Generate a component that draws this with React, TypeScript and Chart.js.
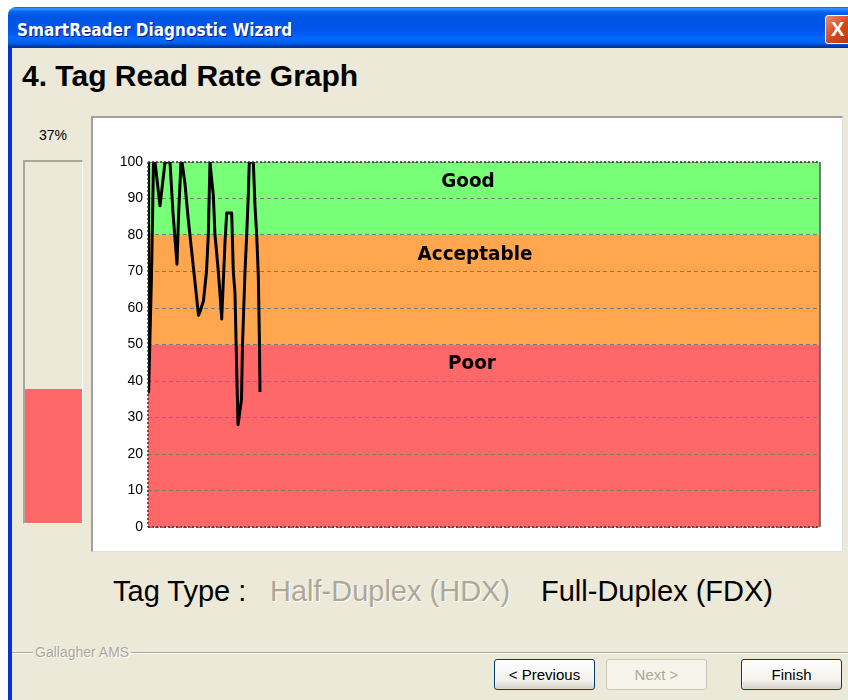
import React, { useEffect, useRef } from "react";
import { Chart, registerables } from "chart.js";

Chart.register(...registerables);

// ---- data ----
const sampleIndex = [0, 0.3, 1.75, 2.25, 2.75, 3.5, 6, 8.5, 11, 12.5, 14.5, 15.25, 16.5, 17, 18.5, 20, 21.75, 23.5, 25.25, 26, 27.75, 29.25, 30.15, 31, 31.85, 32.65, 33.5, 34.35, 35.15, 36, 36.85, 38.5, 39.35, 41.85, 42.65, 43.5, 44.35, 45, 46.75, 47.25, 48.5, 49.35, 50.15, 50.65, 52.65, 53.5, 54.35, 55.15, 55.65, 56];
const readRate = [100, 37, 69, 84, 100, 100, 88, 100, 100, 86, 72, 85, 100, 100, 94, 85, 76, 67, 58, 59, 62, 70, 80, 100, 95, 91, 80, 75, 70, 64, 57, 78, 86, 86, 70, 64, 43, 28, 35, 50, 70, 80, 91, 100, 100, 88, 80, 69, 53, 37];
const sampleMax = 336;

const bandLabels = ["Good", "Acceptable", "Poor"];
const bandFrom = [80, 50, 0];
const bandTo = [100, 80, 50];
const bandColors = ["#78FF78", "#FFA64F", "#FF6868"];
const bandLabelY = [94.5, 74.7, 44.8];
const bandLabelX = [160, 163.5, 162];

const yMin = 0;
const yMax = 100;
const yStep = 10;

const currentRate = readRate[readRate.length - 1];

const bandsPlugin = {
  id: "bands",
  beforeDraw(chart: any) {
    const { ctx, chartArea, scales } = chart;
    const y = scales.y;
    ctx.save();
    for (let i = 0; i < bandLabels.length; i++) {
      const top = y.getPixelForValue(bandTo[i]);
      const bot = y.getPixelForValue(bandFrom[i]);
      ctx.fillStyle = bandColors[i];
      ctx.fillRect(chartArea.left, top, chartArea.right - chartArea.left, bot - top);
    }
    ctx.restore();
  },
  afterDraw(chart: any) {
    const { ctx, chartArea, scales } = chart;
    const x = scales.x;
    const y = scales.y;
    ctx.save();
    ctx.fillStyle = "#000";
    ctx.font = 'bold 20px "DejaVu Sans"';
    ctx.textAlign = "center";
    ctx.textBaseline = "middle";
    for (let i = 0; i < bandLabels.length; i++) {
      ctx.save();
      ctx.translate(x.getPixelForValue(bandLabelX[i]), y.getPixelForValue(bandLabelY[i]));
      ctx.scale(0.92, 1);
      ctx.fillText(bandLabels[i], 0, 0);
      ctx.restore();
    }
    const { left, right, top, bottom } = chartArea;
    ctx.lineWidth = 1.5;
    ctx.strokeStyle = "#333";
    ctx.setLineDash([2, 2]);
    ctx.beginPath();
    ctx.moveTo(left, top);
    ctx.lineTo(right, top);
    ctx.moveTo(left, bottom);
    ctx.lineTo(right, bottom);
    ctx.moveTo(left, top);
    ctx.lineTo(left, bottom);
    ctx.stroke();
    ctx.setLineDash([]);
    ctx.strokeStyle = "#555";
    ctx.beginPath();
    ctx.moveTo(right, top);
    ctx.lineTo(right, bottom);
    ctx.stroke();
    ctx.restore();
  },
};

function RateChart() {
  const ref = useRef<HTMLCanvasElement | null>(null);
  useEffect(() => {
    if (!ref.current) return;
    const chart = new Chart(ref.current, {
      type: "line",
      data: {
        datasets: [
          {
            data: sampleIndex.map((s, i) => ({ x: s, y: readRate[i] })),
            borderColor: "#000",
            borderWidth: 3,
            pointRadius: 0,
            tension: 0,
            fill: false,
            borderJoinStyle: "round",
          },
        ],
      },
      options: {
        responsive: false,
        animation: false,
        events: [],
        layout: { padding: { top: 44, bottom: 23, right: 21, left: 0 } },
        plugins: { legend: { display: false }, tooltip: { enabled: false } },
        scales: {
          x: { type: "linear", min: 0, max: sampleMax, display: false },
          y: {
            min: yMin,
            max: yMax,
            border: { display: false, dash: [4, 3] },
            ticks: {
              stepSize: yStep,
              color: "#000",
              padding: 5,
              font: { family: "Liberation Sans", size: 14 },
            },
            grid: {
              drawTicks: false,
              color: "#7A7A7A",
              lineWidth: 1,
            },
            afterFit(scale: any) {
              scale.width = 55;
            },
          } as any,
        },
      } as any,
      plugins: [bandsPlugin],
    });
    return () => chart.destroy();
  }, []);
  return <canvas ref={ref} width={748} height={432} style={{ position: "absolute", left: 93, top: 118, width: 748, height: 432 }} />;
}

const sans = '"Liberation Sans", Arial, sans-serif';

function XPButton({ left, label, disabled }: { left: number; label: string; disabled?: boolean }) {
  return (
    <div
      style={{
        position: "absolute",
        left,
        top: 659,
        width: 101,
        height: 31,
        boxSizing: "border-box",
        border: disabled ? "1px solid #C9C7BA" : "1px solid #003C74",
        borderRadius: 3,
        background: disabled ? "#F5F4EA" : "linear-gradient(#FFFFFF, #F3F2EC 70%, #D6D0C5)",
        boxShadow: disabled ? "none" : "inset 0 -1px 0 #E0DCC8, inset 1px 0 0 #FBFBF9",
        color: disabled ? "#ACA899" : "#000",
        font: `15px ${sans}`,
        textAlign: "center",
        lineHeight: "29px",
      }}
    >
      {label}
    </div>
  );
}

export default function App() {
  const fillPct = currentRate / 100;
  const barTop = 160;
  const barBottom = 524;
  const innerH = barBottom - barTop - 2;
  return (
    <div style={{ position: "absolute", left: 0, top: 0, width: 848, height: 700, background: "#fff", overflow: "hidden" }}>
      <div
        style={{
          position: "absolute",
          left: 8,
          top: 7,
          width: 860,
          height: 41,
          borderTopLeftRadius: 8,
          background:
            "linear-gradient(#0058EE 0%, #3593FF 4%, #288EFF 6%, #127DFF 8%, #036FFC 10%, #0262EE 14%, #0057E5 20%, #0054E3 24%, #0055EB 56%, #005BF5 66%, #026AFE 76%, #0062EF 86%, #0052D6 92%, #0040AB 94%, #003092 100%)",
        }}
      />
      <div
        style={{
          position: "absolute",
          left: 17,
          top: 20,
          color: "#fff",
          font: 'bold 17px "DejaVu Sans Condensed", "DejaVu Sans", sans-serif',
          textShadow: "1px 1px 0 #0A1883",
          whiteSpace: "nowrap",
        }}
      >
        SmartReader Diagnostic Wizard
      </div>
      <div
        style={{
          position: "absolute",
          left: 825,
          top: 15,
          width: 30,
          height: 29,
          boxSizing: "border-box",
          border: "1px solid #fff",
          borderRadius: 3,
          background: "linear-gradient(135deg, #E88B6C, #D4471E 50%, #B83410)",
          color: "#fff",
          font: `bold 20px ${sans}`,
          lineHeight: "27px",
          paddingLeft: 5,
        }}
      >
        X
      </div>
      <div style={{ position: "absolute", left: 8, top: 48, width: 4, height: 652, background: "#0831D9" }} />
      <div style={{ position: "absolute", left: 12, top: 48, width: 836, height: 652, background: "#ECE9D8" }} />
      <div style={{ position: "absolute", left: 22, top: 59, font: `bold 30px ${sans}`, color: "#000", whiteSpace: "nowrap" }}>
        4. Tag Read Rate Graph
      </div>
      <div style={{ position: "absolute", left: 23, width: 60, top: 127, textAlign: "center", font: `14px ${sans}`, color: "#000" }}>
        {currentRate}%
      </div>
      <div
        style={{
          position: "absolute",
          left: 23,
          top: barTop,
          width: 60,
          height: barBottom - barTop,
          boxSizing: "border-box",
          borderLeft: "2px solid #ACA899",
          borderTop: "2px solid #ACA899",
          borderRight: "1px solid #fff",
          borderBottom: "1px solid #fff",
        }}
      >
        <div style={{ position: "absolute", left: 0, right: 0, bottom: 0, height: Math.round(innerH * fillPct), background: "#FF6868" }} />
      </div>
      <div
        style={{
          position: "absolute",
          left: 91,
          top: 116,
          width: 752,
          height: 436,
          boxSizing: "border-box",
          background: "#fff",
          borderLeft: "2px solid #A0A0A0",
          borderTop: "2px solid #A0A0A0",
          borderRight: "1px solid #E0E0E0",
          borderBottom: "1px solid #E0E0E0",
        }}
      />
      <RateChart />
      <div style={{ position: "absolute", left: 113, top: 577, font: `29px ${sans}`, lineHeight: "29px", color: "#000", whiteSpace: "nowrap" }}>
        Tag Type :
      </div>
      <div
        style={{
          position: "absolute",
          left: 270,
          top: 577,
          font: `29px ${sans}`,
          lineHeight: "29px",
          color: "#ACA899",
          textShadow: "1px 1px 0 #fff",
          whiteSpace: "nowrap",
        }}
      >
        Half-Duplex (HDX)
      </div>
      <div style={{ position: "absolute", left: 541, top: 577, font: `29px ${sans}`, lineHeight: "29px", color: "#000", whiteSpace: "nowrap" }}>
        Full-Duplex (FDX)
      </div>
      <div style={{ position: "absolute", left: 12, top: 652, width: 836, height: 1, background: "#ACA899" }} />
      <div style={{ position: "absolute", left: 12, top: 653, width: 836, height: 1, background: "#fff" }} />
      <div
        style={{
          position: "absolute",
          left: 33,
          top: 644,
          padding: "0 2px",
          background: "#ECE9D8",
          font: `14px ${sans}`,
          lineHeight: "16px",
          color: "#ACA899",
          textShadow: "1px 1px 0 #fff",
          whiteSpace: "nowrap",
        }}
      >
        Gallagher AMS
      </div>
      <XPButton left={494} label="< Previous" />
      <XPButton left={606} label="Next >" disabled />
      <XPButton left={741} label="Finish" />
    </div>
  );
}
